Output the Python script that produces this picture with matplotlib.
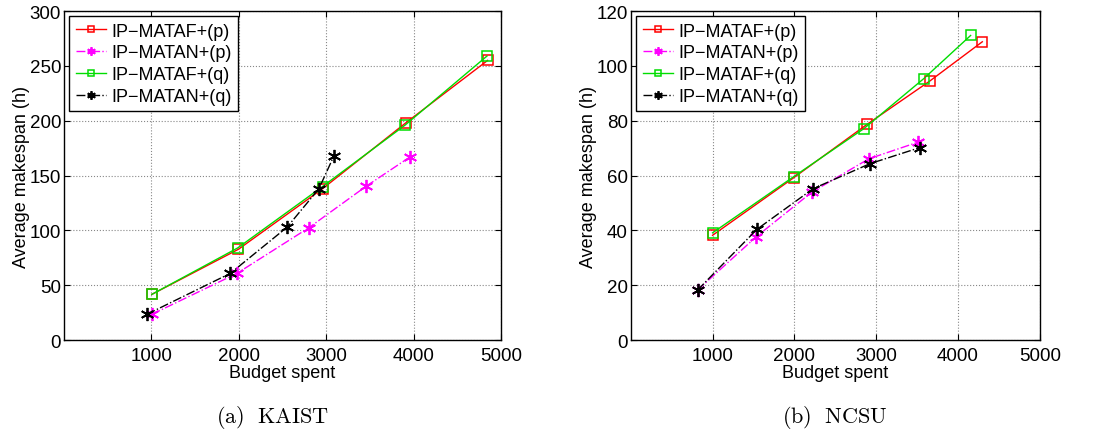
import matplotlib.pyplot as plt
import matplotlib as mpl

mpl.rcParams['font.family'] = ['Liberation Sans', 'DejaVu Sans']
mpl.rcParams['mathtext.fontset'] = 'cm'

labels = ['IP\u2212MATAF+(p)', 'IP\u2212MATAN+(p)', 'IP\u2212MATAF+(q)', 'IP\u2212MATAN+(q)']

# KAIST
kaist_x = [
    [1005, 1995, 2959, 3910, 4847],
    [1005, 1980, 2802, 3460, 3960],
    [1005, 1988, 2959, 3903, 4840],
    [948, 1904, 2554, 2917, 3089],
]
kaist_y = [
    [41.6, 82.7, 138, 198, 255],
    [23.4, 60.8, 102.4, 140.4, 167],
    [41.6, 84, 140, 196, 259],
    [23.4, 60.8, 103, 138, 168],
]

# NCSU
ncsu_x = [
    [1000, 1992, 2890, 3657, 4298],
    [816, 1535, 2216, 2910, 3514],
    [1000, 1992, 2849, 3584, 4155],
    [816, 1543, 2229, 2922, 3535],
]
ncsu_y = [
    [38.2, 59.2, 78.7, 94.5, 108.8],
    [18.2, 37.7, 54, 66.1, 72.2],
    [39.1, 59.6, 77.1, 95.4, 111.1],
    [18.2, 40.4, 55.2, 64.3, 70.2],
]

colors = ['#ff0000', '#ff00ff', '#00dd00', '#000000']
styles = ['-', '-.', '-', '-.']
asterisk = (6, 2, 0)
markers = ['s', asterisk, 's', asterisk]

fig = plt.figure(figsize=(10.97, 4.31), dpi=100)
ax1 = fig.add_axes([0.0583, 0.2088, 0.3984, 0.7632])
ax2 = fig.add_axes([0.575, 0.2088, 0.3728, 0.7632])


def draw(ax, xs, ys, ymax, ystep):
    for x, y, c, ls, m, lab in zip(xs, ys, colors, styles, markers, labels):
        sq = m == 's'
        ax.plot(x, y, color=c, linestyle=ls, marker=m,
                markersize=7.5 if sq else 9.5,
                markerfacecolor='none' if sq else c, markeredgecolor=c,
                markeredgewidth=1.1 if sq else 1.3, linewidth=1.0, label=lab)
    ax.set_xlim(0, 5000)
    ax.set_ylim(0, ymax)
    ax.set_xticks([1000, 2000, 3000, 4000, 5000])
    ax.set_yticks(range(0, ymax + 1, ystep))
    ax.grid(True, linestyle=':', color='#888888', linewidth=0.8)
    ax.tick_params(direction='in', labelsize=13.5, length=4, top=True, right=True)
    ax.tick_params(axis='x', pad=5)
    ax.tick_params(axis='y', pad=2)
    for s in ax.spines.values():
        s.set_linewidth(1.0)
    ax.set_xlabel('Budget spent', fontsize=13, labelpad=0)
    ax.set_ylabel('Average makespan (h)', fontsize=13, labelpad=0)
    leg = ax.legend(loc='upper left', fontsize=13, fancybox=False, framealpha=1,
                    edgecolor='black', borderpad=0.35, labelspacing=0.26,
                    handlelength=1.7, handletextpad=0.3, borderaxespad=0.3,
                    markerscale=0.65)
    leg.get_frame().set_linewidth(1.0)


draw(ax1, kaist_x, kaist_y, 300, 50)
draw(ax2, ncsu_x, ncsu_y, 120, 20)

fig.text(0.248, 0.032, r'$\mathrm{(a)\ \ KAIST}$', ha='center', va='center', fontsize=16)
fig.text(0.761, 0.032, r'$\mathrm{(b)\ \ NCSU}$', ha='center', va='center', fontsize=16)

fig.savefig('out.png', dpi=100)
